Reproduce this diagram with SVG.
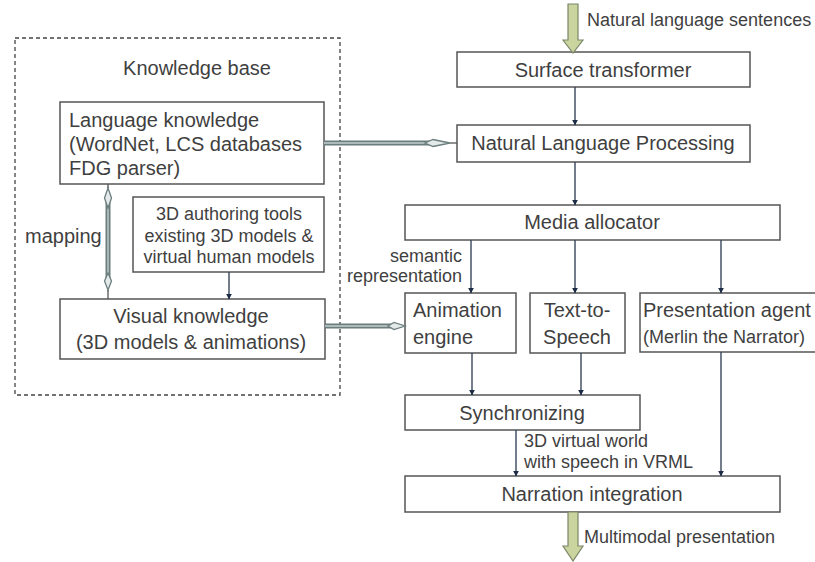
<svg xmlns="http://www.w3.org/2000/svg" width="815" height="562" viewBox="0 0 815 562">
<defs>
<marker id="ah" viewBox="0 0 10 10" refX="9" refY="5" markerWidth="6" markerHeight="6" markerUnits="userSpaceOnUse" orient="auto">
<path d="M0,0 L10,5 L0,10 z" fill="#1e2b45"/>
</marker>
<style>
.box{fill:#fff;stroke:#555;stroke-width:1.5}
.t{font-family:"Liberation Sans",Arial,sans-serif;fill:#3f3f3f}
.t20{font-size:20px}
.t18{font-size:18px}
.c{text-anchor:middle}
.r{text-anchor:end}
.ln{stroke:#38465a;stroke-width:1.4;fill:none;marker-end:url(#ah)}
.dbl{stroke:#6b7d7d;stroke-width:5;fill:none}
.dbli{stroke:#c3cfcf;stroke-width:1.4;fill:none}
.hh{fill:#e4eaea;stroke:#6b7d7d;stroke-width:1.3}
.thin{stroke:#555;stroke-width:1.3;fill:none}
.fat{fill:#c9d49e;stroke:#7b8868;stroke-width:1.2}
</style>
</defs>
<rect width="815" height="562" fill="#fff"/>

<g id="knowledge-base">
<rect x="15" y="38" width="325" height="357" fill="none" stroke="#444" stroke-width="1.3" stroke-dasharray="4,3"/>
<text class="t t20 c" x="197" y="75">Knowledge base</text>
</g>

<g id="language-knowledge">
<rect class="box" x="60" y="102" width="264" height="82"/>
<text class="t t20" x="69" y="127">Language knowledge</text>
<text class="t t20" x="69" y="151">(WordNet, LCS databases</text>
<text class="t t20" x="69" y="175">FDG parser)</text>
</g>

<g id="authoring-tools">
<rect class="box" x="133" y="197" width="191" height="75"/>
<text class="t t18 c" x="229" y="220">3D authoring tools</text>
<text class="t t18 c" x="229" y="242">existing 3D models &amp;</text>
<text class="t t18 c" x="229" y="263">virtual human models</text>
</g>

<g id="visual-knowledge">
<rect class="box" x="60" y="299" width="265" height="60"/>
<text class="t t20 c" x="191" y="323">Visual knowledge</text>
<text class="t t20 c" x="191" y="349">(3D models &amp; animations)</text>
</g>

<g id="surface-transformer">
<rect class="box" x="457" y="52" width="293" height="35"/>
<text class="t t20 c" x="603" y="77">Surface transformer</text>
</g>

<g id="nlp">
<rect class="box" x="457" y="125" width="293" height="37"/>
<text class="t t20 c" x="603" y="150">Natural Language Processing</text>
</g>

<g id="media-allocator">
<rect class="box" x="405" y="205" width="375" height="35"/>
<text class="t t20 c" x="592" y="229">Media allocator</text>
</g>

<g id="animation-engine">
<rect class="box" x="405" y="293" width="111" height="60"/>
<text class="t t20" x="413" y="317">Animation</text>
<text class="t t20" x="413" y="344">engine</text>
</g>

<g id="text-to-speech">
<rect class="box" x="530" y="293" width="95" height="60"/>
<text class="t t20 c" x="577" y="317">Text-to-</text>
<text class="t t20 c" x="577" y="344">Speech</text>
</g>

<g id="presentation-agent">
<rect class="box" x="640" y="293" width="190" height="59"/>
<text class="t t20" x="643" y="317">Presentation agent</text>
<text class="t t18" x="643" y="343">(Merlin the Narrator)</text>
</g>

<g id="synchronizing">
<rect class="box" x="405" y="395" width="235" height="35"/>
<text class="t t20 c" x="522" y="420">Synchronizing</text>
</g>

<g id="narration-integration">
<rect class="box" x="405" y="476" width="375" height="36"/>
<text class="t t20 c" x="592" y="501">Narration integration</text>
</g>

<g id="connectors">
<path class="fat" d="M568,4 L578,4 L578,40 L583,40 L573,53 L563,40 L568,40 Z"/>
<text class="t t18" x="587" y="26">Natural language sentences</text>
<path class="fat" d="M568,512 L578,512 L578,546 L583,546 L573,561 L563,546 L568,546 Z"/>
<text class="t t18" x="584" y="543">Multimodal presentation</text>

<line class="ln" x1="575" y1="87" x2="575" y2="125"/>
<line class="ln" x1="575" y1="162" x2="575" y2="205"/>
<line class="ln" x1="471" y1="240" x2="471" y2="293"/>
<line class="ln" x1="575" y1="240" x2="575" y2="293"/>
<line class="ln" x1="721" y1="240" x2="721" y2="293"/>
<line class="ln" x1="472" y1="353" x2="472" y2="395"/>
<line class="ln" x1="581" y1="353" x2="581" y2="395"/>
<line class="ln" x1="516" y1="430" x2="516" y2="476"/>
<line class="ln" x1="721" y1="352" x2="721" y2="476"/>
<line class="ln" x1="229" y1="272" x2="229" y2="299"/>

<text class="t t18 r" x="462" y="262">semantic</text>
<text class="t t18 r" x="462" y="282">representation</text>
<text class="t t18" x="524" y="447">3D virtual world</text>
<text class="t t18" x="524" y="468">with speech in VRML</text>

<line class="dbl" x1="324" y1="143" x2="430" y2="143"/>
<line class="dbli" x1="324" y1="143" x2="430" y2="143"/>
<path class="hh" d="M425,143 L433,139.5 L450,143 L433,146.5 Z"/>
<line class="thin" x1="450" y1="143" x2="457" y2="143"/>

<line class="dbl" x1="325" y1="326" x2="392" y2="326"/>
<line class="dbli" x1="325" y1="326" x2="392" y2="326"/>
<path class="hh" d="M388,326 L394,322.5 L405,326 L394,329.5 Z"/>

<line class="dbl" x1="108" y1="200" x2="108" y2="282"/>
<line class="dbli" x1="108" y1="200" x2="108" y2="282"/>
<path class="hh" d="M108,188 L111.5,198 L108,208 L104.5,198 Z"/>
<path class="hh" d="M108,273 L111.5,281 L108,290 L104.5,281 Z"/>
<line class="thin" x1="108" y1="184" x2="108" y2="188"/>
<line class="thin" x1="108" y1="290" x2="108" y2="299"/>
<text class="t t20" x="25" y="243">mapping</text>
</g>
</svg>
